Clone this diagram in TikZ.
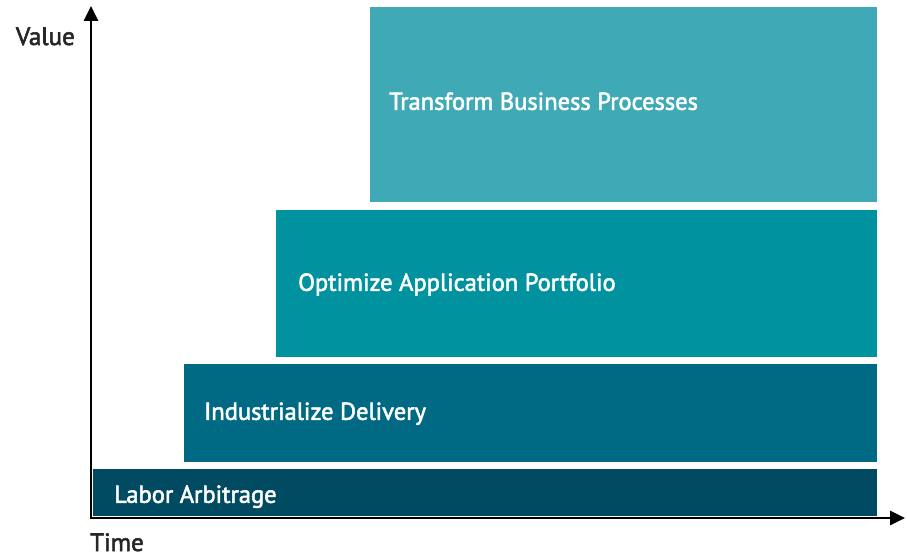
\documentclass[tikz,border=0pt]{standalone}
\usepackage{fontspec}
\setmainfont{PT Sans}
\newfontfamily\phasefont{PT Sans}[FakeBold=2.2]
\usepackage{tikz}
\usepackage{xcolor}
\usetikzlibrary{arrows.meta,positioning}

\definecolor{laborcol}{RGB}{0,74,98}
\definecolor{indcol}{RGB}{0,106,133}
\definecolor{optcol}{RGB}{0,146,158}
\definecolor{transcol}{RGB}{63,170,182}

\begin{document}
\begin{tikzpicture}[
        x=1pt, y=1pt,
        phase/.style={rectangle, anchor=south west, inner sep=0pt},
        lbl/.style={anchor=base west, text=white, font=\phasefont\fontsize{24.5}{26}\selectfont, inner sep=0pt},
        axlbl/.style={text=black!85, font=\phasefont\fontsize{25}{26}\selectfont, inner sep=0pt},
        axis/.style={line width=2.6pt, -{Triangle[length=15pt,width=14pt]}}
      ]
        \useasboundingbox (0,0) rectangle (907,558);

        % phases
        \node[phase, fill=laborcol, minimum width=784, minimum height=47] (labor) at (93,42) {};
        \node[phase, fill=indcol, minimum width=693, minimum height=98] (ind) at (184,96) {};
        \node[phase, fill=optcol, minimum width=601, minimum height=147] (opt) at (276,201) {};
        \node[phase, fill=transcol, minimum width=507, minimum height=195] (trans) at (370,356) {};

        \node[lbl] (laborlbl) at ([xshift=21,yshift=-10.5]labor.west) {Labor Arbitrage};
        \node[lbl] (indlbl) at ([xshift=20,yshift=-7]ind.west) {Industrialize Delivery};
        \node[lbl] (optlbl) at ([xshift=22,yshift=-7.5]opt.west) {Optimize Application Portfolio};
        \node[lbl] (translbl) at ([xshift=19,yshift=-5.5]trans.west) {Transform Business Processes};

        % axes
        \coordinate (origin) at (91,40);
        \coordinate (vtop) at (91,552);
        \coordinate (hend) at (905,40);
        \draw[axis] ([xshift=-1.3]origin) -- (hend);
        \draw[axis] ([yshift=-1.3]origin) -- (vtop);

        \node[axlbl, anchor=base east] (value) at (75,513) {Value};
        \node[axlbl, anchor=base west] (time) at (90,7) {Time};
      \end{tikzpicture}
\end{document}
